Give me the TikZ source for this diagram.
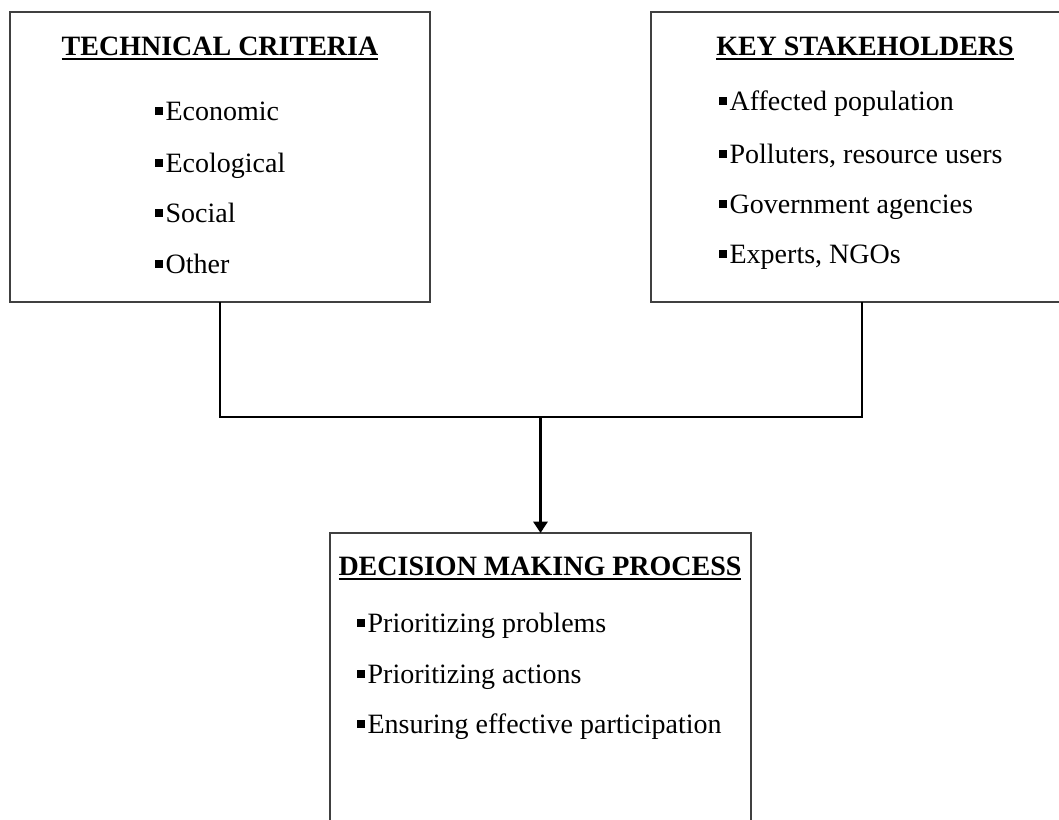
\documentclass[tikz,border=0pt]{standalone}
\usepackage{fontspec}
\setmainfont{Liberation Serif}
\usetikzlibrary{arrows.meta}
\newcommand\hdul[1]{\setbox0\hbox{\bfseries #1}\rlap{\rule[-0.19em]{\wd0}{0.075em}}\box0}
\newcommand\sqb{\rule[0.17em]{0.29em}{0.29em}\hspace{0.08em}}
\tikzset{
  boxst/.style={draw=black!75, line width=1.0pt, rectangle, inner sep=0pt, outer sep=0pt},
  conn/.style={draw=black, line width=2.2pt},
  hd/.style={anchor=base, inner sep=0pt, font=\fontsize{21}{25}\selectfont},
  item/.style={anchor=base west, inner sep=0pt, font=\fontsize{21}{25}\selectfont}
}
\begin{document}
\begin{tikzpicture}[x=0.75pt,y=-0.75pt]
\useasboundingbox (0,0) rectangle (1059,819);
\clip (0,0) rectangle (1059,819);
% boxes
\node[boxst, minimum width=315pt, minimum height=217.5pt] (tc) at (220,157) {};
\node[boxst, minimum width=316.5pt, minimum height=217.5pt] (ks) at (862,157) {};
\node[boxst, minimum width=315.75pt, minimum height=252.75pt] (dm) at (540.5,701.5) {};
% headings
\node[hd] (tch) at (220,55) {\hdul{TECHNICAL CRITERIA}};
\node[hd] (ksh) at (865,55) {\hdul{KEY STAKEHOLDERS}};
\node[hd] (dmh) at (540,575) {\hdul{DECISION MAKING PROCESS}};
% items left
\node[item] (t1) at (155,120) {\sqb Economic};
\node[item] (t2) at (155,172) {\sqb Ecological};
\node[item] (t3) at (155,222) {\sqb Social};
\node[item] (t4) at (155,273) {\sqb Other};
% items right
\node[item] (k1) at (719,110) {\sqb Affected population};
\node[item] (k2) at (719,163) {\sqb Polluters, resource users};
\node[item] (k3) at (719,213) {\sqb Government agencies};
\node[item] (k4) at (719,263) {\sqb Experts, NGOs};
% items bottom
\node[item] (d1) at (357,632) {\sqb Prioritizing problems};
\node[item] (d2) at (357,683) {\sqb Prioritizing actions};
\node[item] (d3) at (357,733) {\sqb Ensuring effective participation};
% connectors
\coordinate (j) at (540.5,417);
\draw[conn] (tc.south) |- (j);
\draw[conn] (ks.south) |- (j);
\draw[conn, -{Triangle[length=8.5pt,width=10.5pt]}] (j) -- (dm.north);
\end{tikzpicture}
\end{document}
